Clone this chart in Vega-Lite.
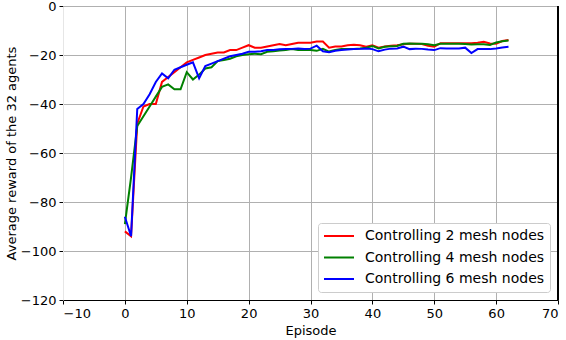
{
  "$schema": "https://vega.github.io/schema/vega-lite/v6.json",
  "autosize": {"type": "none"},
  "padding": {"left": 63, "top": 6, "right": 8, "bottom": 40},
  "width": 495,
  "height": 294,
  "config": {
    "font": "DejaVu Sans",
    "view": {"stroke": null},
    "axis": {
      "labelFontSize": 13,
      "titleFontSize": 13,
      "titleFontWeight": "normal",
      "labelColor": "#000000",
      "titleColor": "#000000",
      "tickColor": "#000000",
      "tickSize": 4,
      "gridColor": "#b0b0b0",
      "gridWidth": 1
    }
  },
  "data": {
    "values": [
      {"ep":0,"s":"Controlling 2 mesh nodes","v":-92},{"ep":1,"s":"Controlling 2 mesh nodes","v":-94},{"ep":2,"s":"Controlling 2 mesh nodes","v":-48},{"ep":3,"s":"Controlling 2 mesh nodes","v":-41},{"ep":4,"s":"Controlling 2 mesh nodes","v":-40},{"ep":5,"s":"Controlling 2 mesh nodes","v":-40},{"ep":6,"s":"Controlling 2 mesh nodes","v":-31},{"ep":7,"s":"Controlling 2 mesh nodes","v":-29},{"ep":8,"s":"Controlling 2 mesh nodes","v":-27},{"ep":9,"s":"Controlling 2 mesh nodes","v":-25},{"ep":10,"s":"Controlling 2 mesh nodes","v":-23},{"ep":11,"s":"Controlling 2 mesh nodes","v":-22},{"ep":12,"s":"Controlling 2 mesh nodes","v":-21},{"ep":13,"s":"Controlling 2 mesh nodes","v":-20},{"ep":14,"s":"Controlling 2 mesh nodes","v":-19.5},{"ep":15,"s":"Controlling 2 mesh nodes","v":-19},{"ep":16,"s":"Controlling 2 mesh nodes","v":-19},{"ep":17,"s":"Controlling 2 mesh nodes","v":-18},{"ep":18,"s":"Controlling 2 mesh nodes","v":-18},{"ep":19,"s":"Controlling 2 mesh nodes","v":-17},{"ep":20,"s":"Controlling 2 mesh nodes","v":-16},{"ep":21,"s":"Controlling 2 mesh nodes","v":-17},{"ep":22,"s":"Controlling 2 mesh nodes","v":-17},{"ep":23,"s":"Controlling 2 mesh nodes","v":-16.5},{"ep":24,"s":"Controlling 2 mesh nodes","v":-16},{"ep":25,"s":"Controlling 2 mesh nodes","v":-15.5},{"ep":26,"s":"Controlling 2 mesh nodes","v":-16},{"ep":27,"s":"Controlling 2 mesh nodes","v":-15.5},{"ep":28,"s":"Controlling 2 mesh nodes","v":-15},{"ep":29,"s":"Controlling 2 mesh nodes","v":-15},{"ep":30,"s":"Controlling 2 mesh nodes","v":-15},{"ep":31,"s":"Controlling 2 mesh nodes","v":-14.5},{"ep":32,"s":"Controlling 2 mesh nodes","v":-14.5},{"ep":33,"s":"Controlling 2 mesh nodes","v":-17},{"ep":34,"s":"Controlling 2 mesh nodes","v":-16.5},{"ep":35,"s":"Controlling 2 mesh nodes","v":-16.5},{"ep":36,"s":"Controlling 2 mesh nodes","v":-16},{"ep":37,"s":"Controlling 2 mesh nodes","v":-15.8},{"ep":38,"s":"Controlling 2 mesh nodes","v":-16},{"ep":39,"s":"Controlling 2 mesh nodes","v":-16.6},{"ep":40,"s":"Controlling 2 mesh nodes","v":-16},{"ep":41,"s":"Controlling 2 mesh nodes","v":-17},{"ep":42,"s":"Controlling 2 mesh nodes","v":-16.5},{"ep":43,"s":"Controlling 2 mesh nodes","v":-16.2},{"ep":44,"s":"Controlling 2 mesh nodes","v":-16},{"ep":45,"s":"Controlling 2 mesh nodes","v":-15.6},{"ep":46,"s":"Controlling 2 mesh nodes","v":-15.4},{"ep":47,"s":"Controlling 2 mesh nodes","v":-15.4},{"ep":48,"s":"Controlling 2 mesh nodes","v":-15.5},{"ep":49,"s":"Controlling 2 mesh nodes","v":-16.2},{"ep":50,"s":"Controlling 2 mesh nodes","v":-16.6},{"ep":51,"s":"Controlling 2 mesh nodes","v":-15.2},{"ep":52,"s":"Controlling 2 mesh nodes","v":-15.2},{"ep":53,"s":"Controlling 2 mesh nodes","v":-15.2},{"ep":54,"s":"Controlling 2 mesh nodes","v":-15.2},{"ep":55,"s":"Controlling 2 mesh nodes","v":-15.2},{"ep":56,"s":"Controlling 2 mesh nodes","v":-15.2},{"ep":57,"s":"Controlling 2 mesh nodes","v":-15},{"ep":58,"s":"Controlling 2 mesh nodes","v":-14.6},{"ep":59,"s":"Controlling 2 mesh nodes","v":-15.3},{"ep":60,"s":"Controlling 2 mesh nodes","v":-15.4},{"ep":61,"s":"Controlling 2 mesh nodes","v":-14.3},{"ep":62,"s":"Controlling 2 mesh nodes","v":-13.9},
      {"ep":0,"s":"Controlling 4 mesh nodes","v":-89},{"ep":1,"s":"Controlling 4 mesh nodes","v":-70},{"ep":2,"s":"Controlling 4 mesh nodes","v":-49},{"ep":3,"s":"Controlling 4 mesh nodes","v":-45},{"ep":4,"s":"Controlling 4 mesh nodes","v":-41},{"ep":5,"s":"Controlling 4 mesh nodes","v":-37},{"ep":6,"s":"Controlling 4 mesh nodes","v":-33},{"ep":7,"s":"Controlling 4 mesh nodes","v":-32},{"ep":8,"s":"Controlling 4 mesh nodes","v":-34},{"ep":9,"s":"Controlling 4 mesh nodes","v":-34},{"ep":10,"s":"Controlling 4 mesh nodes","v":-27},{"ep":11,"s":"Controlling 4 mesh nodes","v":-30},{"ep":12,"s":"Controlling 4 mesh nodes","v":-28},{"ep":13,"s":"Controlling 4 mesh nodes","v":-25.5},{"ep":14,"s":"Controlling 4 mesh nodes","v":-25},{"ep":15,"s":"Controlling 4 mesh nodes","v":-22.5},{"ep":16,"s":"Controlling 4 mesh nodes","v":-22},{"ep":17,"s":"Controlling 4 mesh nodes","v":-21.5},{"ep":18,"s":"Controlling 4 mesh nodes","v":-20.5},{"ep":19,"s":"Controlling 4 mesh nodes","v":-20},{"ep":20,"s":"Controlling 4 mesh nodes","v":-19.7},{"ep":21,"s":"Controlling 4 mesh nodes","v":-19.5},{"ep":22,"s":"Controlling 4 mesh nodes","v":-19.7},{"ep":23,"s":"Controlling 4 mesh nodes","v":-18.7},{"ep":24,"s":"Controlling 4 mesh nodes","v":-18.5},{"ep":25,"s":"Controlling 4 mesh nodes","v":-18.2},{"ep":26,"s":"Controlling 4 mesh nodes","v":-18},{"ep":27,"s":"Controlling 4 mesh nodes","v":-17.6},{"ep":28,"s":"Controlling 4 mesh nodes","v":-18},{"ep":29,"s":"Controlling 4 mesh nodes","v":-18},{"ep":30,"s":"Controlling 4 mesh nodes","v":-18},{"ep":31,"s":"Controlling 4 mesh nodes","v":-18.3},{"ep":32,"s":"Controlling 4 mesh nodes","v":-17.5},{"ep":33,"s":"Controlling 4 mesh nodes","v":-18.6},{"ep":34,"s":"Controlling 4 mesh nodes","v":-18},{"ep":35,"s":"Controlling 4 mesh nodes","v":-17.6},{"ep":36,"s":"Controlling 4 mesh nodes","v":-17.5},{"ep":37,"s":"Controlling 4 mesh nodes","v":-17.5},{"ep":38,"s":"Controlling 4 mesh nodes","v":-17.3},{"ep":39,"s":"Controlling 4 mesh nodes","v":-17},{"ep":40,"s":"Controlling 4 mesh nodes","v":-16.3},{"ep":41,"s":"Controlling 4 mesh nodes","v":-17.3},{"ep":42,"s":"Controlling 4 mesh nodes","v":-16.6},{"ep":43,"s":"Controlling 4 mesh nodes","v":-16.4},{"ep":44,"s":"Controlling 4 mesh nodes","v":-16.3},{"ep":45,"s":"Controlling 4 mesh nodes","v":-15.4},{"ep":46,"s":"Controlling 4 mesh nodes","v":-15.3},{"ep":47,"s":"Controlling 4 mesh nodes","v":-15.4},{"ep":48,"s":"Controlling 4 mesh nodes","v":-15.4},{"ep":49,"s":"Controlling 4 mesh nodes","v":-15.6},{"ep":50,"s":"Controlling 4 mesh nodes","v":-16},{"ep":51,"s":"Controlling 4 mesh nodes","v":-15.4},{"ep":52,"s":"Controlling 4 mesh nodes","v":-15.4},{"ep":53,"s":"Controlling 4 mesh nodes","v":-15.4},{"ep":54,"s":"Controlling 4 mesh nodes","v":-15.4},{"ep":55,"s":"Controlling 4 mesh nodes","v":-15.5},{"ep":56,"s":"Controlling 4 mesh nodes","v":-15.7},{"ep":57,"s":"Controlling 4 mesh nodes","v":-15.6},{"ep":58,"s":"Controlling 4 mesh nodes","v":-15.6},{"ep":59,"s":"Controlling 4 mesh nodes","v":-15.9},{"ep":60,"s":"Controlling 4 mesh nodes","v":-14.9},{"ep":61,"s":"Controlling 4 mesh nodes","v":-14.4},{"ep":62,"s":"Controlling 4 mesh nodes","v":-14.1},
      {"ep":0,"s":"Controlling 6 mesh nodes","v":-86},{"ep":1,"s":"Controlling 6 mesh nodes","v":-94},{"ep":2,"s":"Controlling 6 mesh nodes","v":-42},{"ep":3,"s":"Controlling 6 mesh nodes","v":-40},{"ep":4,"s":"Controlling 6 mesh nodes","v":-36},{"ep":5,"s":"Controlling 6 mesh nodes","v":-31},{"ep":6,"s":"Controlling 6 mesh nodes","v":-27.5},{"ep":7,"s":"Controlling 6 mesh nodes","v":-29.5},{"ep":8,"s":"Controlling 6 mesh nodes","v":-26},{"ep":9,"s":"Controlling 6 mesh nodes","v":-25},{"ep":10,"s":"Controlling 6 mesh nodes","v":-24},{"ep":11,"s":"Controlling 6 mesh nodes","v":-23},{"ep":12,"s":"Controlling 6 mesh nodes","v":-29.5},{"ep":13,"s":"Controlling 6 mesh nodes","v":-24.5},{"ep":14,"s":"Controlling 6 mesh nodes","v":-23.5},{"ep":15,"s":"Controlling 6 mesh nodes","v":-22.5},{"ep":16,"s":"Controlling 6 mesh nodes","v":-21.5},{"ep":17,"s":"Controlling 6 mesh nodes","v":-20.5},{"ep":18,"s":"Controlling 6 mesh nodes","v":-20},{"ep":19,"s":"Controlling 6 mesh nodes","v":-19.5},{"ep":20,"s":"Controlling 6 mesh nodes","v":-18.7},{"ep":21,"s":"Controlling 6 mesh nodes","v":-18.7},{"ep":22,"s":"Controlling 6 mesh nodes","v":-18.5},{"ep":23,"s":"Controlling 6 mesh nodes","v":-18},{"ep":24,"s":"Controlling 6 mesh nodes","v":-18},{"ep":25,"s":"Controlling 6 mesh nodes","v":-17.7},{"ep":26,"s":"Controlling 6 mesh nodes","v":-17.6},{"ep":27,"s":"Controlling 6 mesh nodes","v":-17.5},{"ep":28,"s":"Controlling 6 mesh nodes","v":-17.3},{"ep":29,"s":"Controlling 6 mesh nodes","v":-17.5},{"ep":30,"s":"Controlling 6 mesh nodes","v":-17.4},{"ep":31,"s":"Controlling 6 mesh nodes","v":-16.2},{"ep":32,"s":"Controlling 6 mesh nodes","v":-18.5},{"ep":33,"s":"Controlling 6 mesh nodes","v":-18.9},{"ep":34,"s":"Controlling 6 mesh nodes","v":-18.3},{"ep":35,"s":"Controlling 6 mesh nodes","v":-18},{"ep":36,"s":"Controlling 6 mesh nodes","v":-17.8},{"ep":37,"s":"Controlling 6 mesh nodes","v":-17.6},{"ep":38,"s":"Controlling 6 mesh nodes","v":-17.5},{"ep":39,"s":"Controlling 6 mesh nodes","v":-17.3},{"ep":40,"s":"Controlling 6 mesh nodes","v":-17.6},{"ep":41,"s":"Controlling 6 mesh nodes","v":-18.5},{"ep":42,"s":"Controlling 6 mesh nodes","v":-17.8},{"ep":43,"s":"Controlling 6 mesh nodes","v":-17.4},{"ep":44,"s":"Controlling 6 mesh nodes","v":-17.3},{"ep":45,"s":"Controlling 6 mesh nodes","v":-16.6},{"ep":46,"s":"Controlling 6 mesh nodes","v":-17.6},{"ep":47,"s":"Controlling 6 mesh nodes","v":-17.4},{"ep":48,"s":"Controlling 6 mesh nodes","v":-17.5},{"ep":49,"s":"Controlling 6 mesh nodes","v":-17.8},{"ep":50,"s":"Controlling 6 mesh nodes","v":-18},{"ep":51,"s":"Controlling 6 mesh nodes","v":-17.2},{"ep":52,"s":"Controlling 6 mesh nodes","v":-17.3},{"ep":53,"s":"Controlling 6 mesh nodes","v":-17.3},{"ep":54,"s":"Controlling 6 mesh nodes","v":-17.3},{"ep":55,"s":"Controlling 6 mesh nodes","v":-17},{"ep":56,"s":"Controlling 6 mesh nodes","v":-19.2},{"ep":57,"s":"Controlling 6 mesh nodes","v":-17.6},{"ep":58,"s":"Controlling 6 mesh nodes","v":-17.6},{"ep":59,"s":"Controlling 6 mesh nodes","v":-17.6},{"ep":60,"s":"Controlling 6 mesh nodes","v":-17.3},{"ep":61,"s":"Controlling 6 mesh nodes","v":-16.9},{"ep":62,"s":"Controlling 6 mesh nodes","v":-16.6}
    ]
  },
  "layer": [
    {
      "mark": {"type": "line", "strokeWidth": 2},
      "encoding": {
        "x": {
          "field": "ep", "type": "quantitative", "title": "Episode",
          "scale": {"domain": [-10, 70], "nice": false, "zero": false},
          "axis": {"values": [-10, 0, 10, 20, 30, 40, 50, 60, 70], "domainColor": "#000000", "domainWidth": 1, "labelPadding": 3, "titlePadding": 4}
        },
        "y": {
          "field": "v", "type": "quantitative", "title": "Average reward of the 32 agents",
          "scale": {"domain": [-120, 0], "nice": false, "zero": false},
          "axis": {"values": [-120, -100, -80, -60, -40, -20, 0], "domainColor": "#e6e6e6", "labelPadding": 3, "titlePadding": 2}
        },
        "color": {
          "field": "s", "type": "nominal",
          "scale": {"domain": ["Controlling 2 mesh nodes", "Controlling 4 mesh nodes", "Controlling 6 mesh nodes"], "range": ["#ff0000", "#008000", "#0000ff"]},
          "legend": {
            "title": null, "orient": "bottom-right", "offset": 8,
            "fillColor": "#ffffff", "strokeColor": "#cccccc", "cornerRadius": 3, "padding": 5,
            "symbolType": "stroke", "symbolSize": 900, "symbolStrokeWidth": 2,
            "labelFontSize": 14, "labelColor": "#000000", "labelOffset": 10, "labelLimit": 0,
            "clipHeight": 16, "rowPadding": 5.5
          }
        }
      }
    },
    {
      "mark": {"type": "rule", "color": "#000000", "strokeWidth": 1},
      "encoding": {"x": {"datum": 70}}
    }
  ]
}
